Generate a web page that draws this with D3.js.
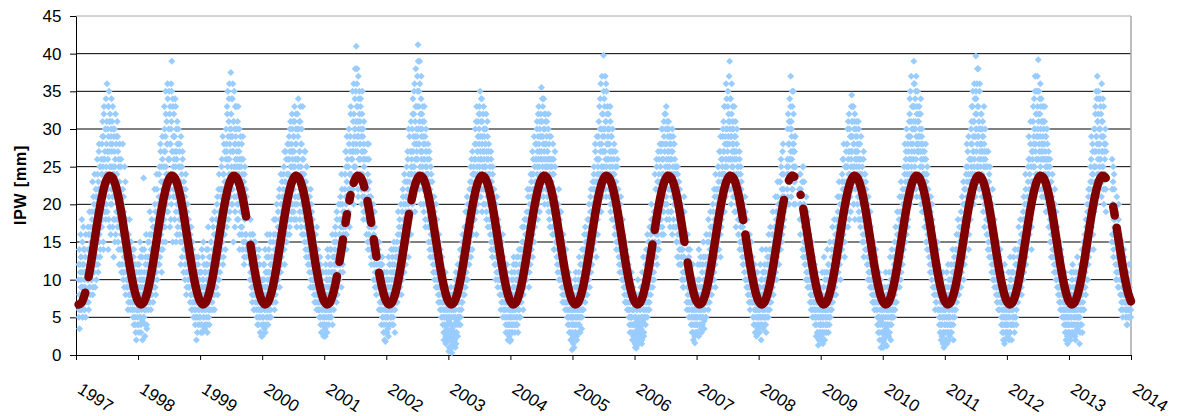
<!DOCTYPE html>
<html><head><meta charset="utf-8">
<script src="https://cdn.jsdelivr.net/npm/d3@7"></script>
<style>
html,body{margin:0;padding:0;background:#fff;}
svg{display:block;font-family:"Liberation Sans",Arial,sans-serif;}
</style></head><body>
<svg id="chart" width="1185" height="416"></svg>
<script>
// ---------------- DATA ----------------
const yearTicks = [1997,1998,1999,2000,2001,2002,2003,2004,2005,2006,2007,2008,2009,2010,2011,2012,2013,2014];
const yTicks = [0,5,10,15,20,25,30,35,40,45];
const yLabel = "IPW [mm]";
// fitted seasonal cycle (mm), half-month steps from Jan 1 (k/24 of year), k = 0..24
const fitCycle = [7.12,6.71,6.89,7.63,8.90,10.59,12.61,14.80,17.03,19.13,20.97,22.42,23.38,23.79,23.61,22.87,21.60,19.91,17.89,15.70,13.47,11.37,9.53,8.08,7.12];
const dataStart = 1997.04;
// periods without observations [from, to] in decimal years
const gaps = [[1997.165,1997.19],[1999.75,1999.80],[2001.215,2001.232],[2001.31,2001.33],[2001.375,2001.39],[2001.435,2001.45],[2001.66,2001.68],[2001.765,2001.785],[2001.85,2001.87],[2002.375,2002.39],[2006.295,2006.31],[2006.81,2006.84],[2007.755,2007.77],[2008.413,2008.455],[2008.595,2008.655],[2008.68,2008.70],[2013.60,2013.69],[2013.74,2013.75]];
// IPW observations (mm): odd days of year (1,3,...,365)
const ipw1997 = [null,null,null,null,null,null,null,9,12,6,3.5,8,11,7,13,10,6,18,9,5,12,8,14,7,11,6,9,13,5,8,12,9,15,7,11,17,10,6,13,9,16,12,8,14,10,14,10,18,12,8,16,21,13,11,19,15,9,17,22,12,16,20,13,24,18,11,22,27,15,19,25,14,21,17,26,22,28,18,31,25,15,29,33,21,26,19,30,24,34,20,31,36,27,22,33,29,18,35,31,25,32,28,16,30,34,27,31,21,33,25,18,29,24,30,15,26,32,22,28,19,24,31,17,27,21,14,25,19,28,12,22,18,26,16,20,19,14,28,17,11,21,15,9,18,13,23,12,16,10,14,13,9,16,11,7,14,10,18,8,12,6,11,15,9,13,10,7,12,5,9,14,6,8,11,4,7,10,2,6,9,5,12,8];
const ipw1998 = [6,9,3,11,7,5,13,8,4,10,6,14,9,2,7,8,23.5,5,11,7,2.5,9,13,6,10,4,8,12,7,15,9,13,7,11,16,8,12,6,14,10,18,9,13,11,7,12,17,9,14,20,11,15,8,18,13,22,10,16,19,12,15,21,18,25,13,20,27,16,23,11,19,26,14,22,17,20,27,33,23,17,29,35,25,21,31,19,28,34,24,26,30,35,26,22,33,28,18,36,31,39,27,24,34,29,21,32,26,29,22,34,25,19,30,27,16,31,23,28,20,25,23,27,18,25,15,21,29,17,24,13,20,26,16,22,19,18,14,21,12,16,24,11,17,9,15,20,13,10,18,12,12,9,15,7,13,10,17,8,11,6,14,9,12,5,10,9,6,11,4,8,13,5,10,7,3,9,12,6,4,8,11,5,7];
const ipw1999 = [5,8,3,11,6,9,4,13,7,10,5,8,12,3.5,6,9,4,7,12,5,10,3,8,14,6,11,7,4,9,13,8,12,6,15,10,7,13,9,17,11,8,14,6,12,10,11,16,9,14,20,12,8,17,13,22,10,15,19,11,14,17,13,22,19,26,15,21,12,24,18,28,16,23,20,14,23,30,19,27,33,22,35,26,18,31,24,36,28,21,29,37.5,32,25,34,29,20,36,27,31,23,35,28,17,33,26,29,33,24,27,20,31,25,18,28,22,30,16,26,23,19,25,20,28,17,23,14,26,19,22,12,24,18,21,15,20,16,21,13,18,11,15,19,10,14,17,9,13,16,11,15,12,9,14,7,11,16,8,13,10,6,12,9,15,7,11,8,11,5,9,7,13,4,10,6,8,12,5,3,9,7,2.5,6,10];
const ipw2000 = [2.5,7,10,5,8,4,12,6,9,3,11,7,5,13,8,6,10,4,8,13,7,11,5,9,15,6,12,8,10,7,10,7,13,9,16,11,6,14,12,8,18,10,15,9,13,12,17,10,15,21,13,9,18,14,11,20,16,12,23,15,18,14,22,16,25,20,12,23,17,27,15,21,19,24,16,21,26,18,24,29,16,27,22,31,20,25,28,19,30,23,27,31,22,29,18,33,25,20,28,32,24,17,30,26,21,29,34,25,21,31,27,18,33,24,28,20,30,16,26,23,22,26,18,24,15,21,27,17,23,13,20,25,16,19,14,17,13,20,15,11,18,14,22,10,16,12,19,9,15,13,12,9,14,10,7,13,11,16,8,10,6,12,9,14,7,9,6,11,5,8,13,7,4,10,6,9,3,7,11,5,8,4,6];
const ipw2001 = [7,4,9,2.5,6,11,5,8,3,10,7,13,5,9,6,8,12,5,10,7,14,6,9,11,4,13,8,10,6,12,11,14,8,16,10,13,7,18,12,9,15,11,17,10,14,13,18,11,20,15,9,17,22,14,12,19,16,23,13,18,19,24,16,21,27,14,23,18,26,20,15,25,22,28,17,24,29,21,33,26,19,31,27,35,23,28,20,32,25,30,34,38,27,31,41,24,36,29,33,22,37,30,26,35,28,31,26,34,23,29,20,32,27,24,30,18,28,25,21,26,23,27,19,25,16,22,28,18,24,14,21,26,17,20,15,18,14,21,12,17,23,11,16,13,19,10,15,12,17,9,13,10,15,8,12,17,9,11,7,14,10,6,12,9,13,9,6,11,4,8,12,5,10,7,3,9,6,2,8,5,1.8,7,10];
const ipw2002 = [4,8,3,6,10,5,2.5,9,7,12,4,8,6,11,5,7,10,4,12,8,5,14,9,6,11,3,8,13,7,10,9,13,7,11,16,10,8,14,12,18,9,13,11,15,8,13,17,10,15,21,12,18,11,24,14,16,20,13,19,15,18,23,15,26,20,13,24,19,29,17,22,27,16,25,21,24,30,20,34,27,22,32,25,36,19,29,33,23,28,26,33,37,26,41.2,30,23,35,28,39,25,32,20,34,29,27,30,25,33,22,28,19,31,26,23,29,17,27,24,21,25,22,26,18,24,15,21,27,17,23,13,20,16,24,19,14,17,13,20,11,16,14,19,10,15,12,18,9,13,11,16,12,9,14,7,11,15,8,10,6,13,9,11,5,10,8,7,4,9,6,2,8,5,11,3,7,1.5,6,9,4,2.5,8,5,3];
const ipw2003 = [3,0.5,5,2,7,1,4,9,2.5,6,0.3,3.5,8,1.5,5,4,7,2,9,5,1,6,11,3,8,4.5,10,2.5,7,5,7,10,5,12,8,4,11,14,6,9,13,7,16,10,8,10,14,8,17,12,9,15,19,11,13,21,10,16,14,18,16,12,20,15,23,18,13,22,26,17,14,24,19,21,25,21,26,18,24,30,22,28,16,33,25,20,27,31,23,29,28,33,24,35,27,21,31,26,34,19,29,25,32,22,30,27,23,30,20,28,25,32,18,26,22,29,17,24,27,21,22,18,25,16,21,27,15,23,19,13,24,17,20,14,22,16,12,19,14,10,17,13,21,11,15,9,18,12,14,10,11,8,14,10,6,12,9,15,7,11,5,13,8,10,7,8,5,10,6,3,9,7,12,4,8,2,6,10,5,3,7,1.8,6];
const ipw2004 = [5,2,8,4,10,6,3,9,7,12,4,6,11,3,8,6,10,4,8,13,5,9,3,11,7,14,6,9,12,5,9,13,7,11,15,8,12,6,14,10,17,9,13,11,16,12,16,10,19,14,11,17,21,13,9,18,15,22,12,16,16,21,14,24,18,13,22,26,17,20,15,25,19,28,21,23,28,20,31,25,18,29,26,33,22,27,30,21,24,32,29,35.5,26,31,22,33,28,24,34,27,20,30,25,32,26,28,24,31,21,27,25,30,19,26,22,29,17,25,23,20,23,19,26,17,22,28,16,24,20,14,21,25,18,15,19,17,13,20,15,11,18,14,22,12,16,10,19,13,15,11,12,9,14,8,11,16,10,7,13,9,12,6,10,14,8,7,10,5,9,4,8,11,6,3,7,9,5,2,6,8,4,0.7,5];
const ipw2005 = [3,6,1.5,5,8,2,7,4,10,3,6,9,2.5,5,8,5,9,3,7,11,4,8,6,12,5,10,7,3.5,9,6,9,12,6,10,14,8,11,7,15,10,13,9,16,8,12,12,16,10,18,13,9,17,14,21,11,15,19,12,16,20,17,22,14,25,19,15,23,27,18,21,13,26,20,24,16,23,29,20,26,33,22,30,24,36,19,28,25,32,21,27,32,39.8,27,34,23,30,37,26,31,21,35,28,24,33,29,28,32,24,30,21,27,31,19,26,23,29,18,25,22,27,22,26,18,24,16,21,27,17,23,14,20,25,15,19,22,17,13,20,14,11,18,15,21,12,16,10,14,18,11,13,12,9,14,8,11,15,10,7,13,9,12,6,11,8,10,8,5,10,6,3,9,7,4,11,5,8,2,6,9,4,7,3,5];
const ipw2006 = [2,4,1,5,3,0.9,6,2.5,4.5,7,3,1.5,5,8,2,4,6,2,8,3.5,5,1.5,7,4,9,3,6,2.5,10,5,6,9,4,11,7,13,8,5,10,12,7,15,9,6,11,10,14,8,16,12,18,11,15,9,20,13,17,10,14,19,15,19,13,22,17,25,12,20,16,23,18,14,26,21,17,20,25,18,28,22,16,26,30,21,24,19,31,23,27,20,28,32,24,33,26,20,30,25,29,22,31,27,18,28,24,26,22,29,19,27,24,30,21,25,17,28,23,20,26,22,20,24,17,22,15,21,25,16,19,13,23,18,14,21,16,15,12,18,13,10,17,14,11,16,9,13,19,11,14,12,10,13,8,11,6,12,9,14,7,10,5,11,9,12,8,7,4,9,6,3,8,5,10,2,6,4,8,1.6,5,7,3,6,9];
const ipw2007 = [5,3,8,4,10,6,2.5,7,5,9,12,4,6,8,3,6,11,4,8,5,13,7,3.5,9,6,10,5,12,8,7,10,7,13,9,6,12,15,8,11,14,9,17,10,12,8,12,17,10,15,19,13,11,16,21,14,9,18,13,22,15,18,14,22,17,25,20,16,24,19,27,13,21,26,18,23,22,26,29,24,31,27,19,33,28,25,21,30,26,34,23,30,27,35,29,32,24,28,39,31,26,34,22,29,36,27,28,33,25,30,27,21,29,26,23,31,19,27,24,28,20,22,25,18,23,16,21,26,15,20,24,17,22,14,19,18,15,19,12,16,11,17,14,21,10,15,13,18,9,14,12,12,8,11,14,7,13,9,6,10,15,8,11,7,12,9,7,5,9,4,8,6,11,3,7,10,5,2.5,6,8,4,7,9,5];
const ipw2008 = [4,7,3,6,9,5,8,2,6.5,10,4,7,11,5,8,6,9,4,7,11,5,8,3,10,7,12,6,9,5,13,8,12,6,10,13,9,7,14,11,9,16,10,12,8,15,13,10,15,12,17,11,14,19,13,16,21,12,18,14,20,15,20,17,23,14,19,25,18,22,16,27,21,17,24,19,21,24,27,19,29,23,26,33,25,22,30,20,28,24,31,28,34,26,30,37,24,31,29,22,33,27,25,35,28,23,27,23,29,25,31,21,26,30,24,19,28,22,25,27,20,22,18,24,20,16,21,26,17,23,14,19,25,15,20,17,15,12,17,13,10,16,19,11,14,9,18,12,15,10,13,11,7,12,9,6,14,8,13,5,10,12,7,9,11,6,7,4,8,5,2.5,9,6,10,3,7,1.3,5,8,4,6,9,3,5];
const ipw2009 = [4,2,6,3,8,5,1.5,7,4,9,6,11,3,7,5,5,8,3,6,10,4,7,12,6,9,4,11,7,5,9,8,11,6,13,9,7,12,10,15,8,14,11,9,16,10,12,15,10,17,13,19,11,16,14,21,12,18,15,10,17,16,21,14,24,18,22,15,26,19,23,13,20,25,17,22,20,25,28,22,30,17,26,24,32,21,27,23,29,19,26,29,34.5,27,31,23,33,28,20,30,25,32,26,22,29,24,27,31,24,28,21,26,30,19,25,23,28,18,24,26,21,22,18,25,20,16,23,27,15,21,17,24,14,19,22,16,14,17,12,20,10,16,13,18,11,15,9,14,17,12,10,11,8,13,10,7,15,9,12,6,10,8,13,7,11,9,6,9,4,7,3,10,5,8,2,6,4,9,1,5,7,3,6,4];
const ipw2010 = [3,1,5,2,6,4,1.5,7,3,5,8,2.5,6,4,9,4,7,2.5,6,9,3,8,5,10,6,4,11,7,5,8,7,10,5,12,8,11,6,13,9,14,7,11,16,9,12,10,15,12,17,9,14,19,13,16,11,21,14,18,12,20,18,14,21,17,24,19,15,23,27,20,16,25,22,28,18,25,22,29,26,32,20,35,28,31,24,27,33,23,30,26,33,39,30,36,25,34,31,22,37,28,32,27,35,24,29,31,27,33,23,29,25,32,20,28,26,30,22,27,24,19,22,26,19,24,17,21,28,18,23,15,20,25,16,22,18,16,13,19,14,11,17,21,12,15,10,18,13,16,11,14,11,8,13,9,6,14,10,7,12,9,15,8,11,6,10,6,4,8,5,3,7,2,9,6,4,10,5,1.5,7,3,6,8,4];
const ipw2011 = [4,2,6,3,8,5,1.5,7,4,9,3,6,10,5,2.5,5,3,7,10,4,8,6,11,5,9,2,7,12,6,8,8,12,6,10,14,7,11,9,13,10,16,8,12,15,9,11,15,9,17,13,12,18,14,16,20,10,15,22,13,17,17,22,15,25,19,23,16,27,21,24,14,20,26,18,23,26,22,30,25,33,28,24,35,29,27,20,31,26,34,23,32,39.7,34,30,36,28,33,25,38,29,31,22,35,27,30,30,26,32,28,24,30,27,22,29,25,33,20,27,23,26,21,25,18,23,16,22,19,27,15,20,24,17,21,14,19,17,13,16,12,20,14,10,15,11,18,13,9,16,12,14,11,8,12,9,7,13,10,6,11,8,14,9,12,7,10,7,4,9,6,3,8,5,2,7,4,1.5,6,9,5,3,8,6,4];
const ipw2012 = [5,3,7,4,9,6,2,8,5,10,3,7,11,4,6,6,9,4,7,11,5,8,3,10,7,12,5,9,6,8,9,12,7,13,10,8,14,11,9,15,12,10,16,8,13,12,16,10,18,14,11,17,20,13,15,22,12,19,14,17,19,15,23,17,26,20,16,24,21,28,18,25,14,22,27,23,27,31,25,29,34,21,30,37,28,24,32,26,35,22,33,29,39.2,31,35,27,24,32,36,30,26,34,28,22,31,29,33,26,30,24,28,31,21,27,25,29,19,26,23,28,22,26,19,24,17,21,25,18,20,15,23,16,21,19,14,16,13,18,14,11,15,20,12,17,10,14,12,16,9,13,11,8,13,9,7,12,10,6,9,14,8,11,5,10,8,7,5,8,4,6,9,3,7,5,2,6,4,8,1.5,5,7,3,6];
const ipw2013 = [4,7,3,6,9,2.5,5,8,4,10,6,3,7,11,5,6,3,8,5,2,7,10,4,6,9,3.5,8,5,11,7,7,1.5,5,9,4,11,6,8,12,3,10,7,13,9,6,9,13,11,15,8,14,17,12,16,19,10,14,21,13,16,15,20,17,23,18,26,21,16,24,28,19,22,14,25,20,25,30,23,33,27,35,29,21,37,31,26,32,24,34,28,28,34,30,26,32,23,36,27,25,31,29,22,33,27,24,28,24,30,22,27,25,21,26,23,20,25,18,24,21,19,19,23,17,21,27,18,15,22,16,20,25,14,18,22,17,14,18,12,16,11,15,10,13,17,9,14,20,12,15,11,12,8,11,6,10,13,7,9,5,11,8,14,7,10,9,8,6,10,5,7,4,9,6,8,5,7,12,6,9,5,8,7,6];
// IPW observations (mm): even days of year (2,4,...,364)
const ipwB1997 = [null,null,null,null,null,null,null,10,5,14,8,12,6,16,9,13,7,11,15,5,9,17,12,6,10,14,8,11,16,7,15,8,12,18,10,14,7,16,11,19,9,13,17,12,15,11,19,14,23,9,17,13,20,16,24,12,18,15,21,10,21,15,26,18,12,23,19,28,16,22,13,25,20,17,24,17,24,29,20,26,14,32,23,19,27,22,30,18,25,28,24,19,30,26,14,33,21,27,17,31,23,20,29,25,22,20,28,17,24,30,13,22,27,18,25,21,16,23,29,19,18,22,29,15,20,26,12,23,17,21,14,25,19,11,17,12,17,22,10,15,19,13,25,11,16,8,14,18,12,9,10,14,6,12,16,8,11,13,9,15,7,10,12,8,14,6,11,8,13,4,9,7,12,5,10,3,8,11,6,9,4,7];
const ipwB1998 = [8,4,12,6,10,15,5,9,3,11,7,13,4.5,8,10,5,10,14,6,9,4,12,7,16,9,3.5,11,8,13,6,11,8,15,10,19,7,13,9,16,12,8,14,10,17,11,16,10,14,22,13,9,19,15,11,24,14,17,12,20,15,18,24,12,20,16,28,19,14,25,21,17,29,15,23,19,25,18,30,22,27,15,32,24,20,28,23,36,19,26,22,26,21,32,17,28,24,30,20,35,23,27,15,33,25,22,24,29,18,27,21,33,15,23,26,20,28,17,22,30,19,20,16,28,19,23,12,22,18,25,15,27,17,21,11,23,14,19,10,16,22,13,8,15,19,11,14,17,9,13,16,9,13,11,16,8,12,6,14,10,15,7,11,13,8,11,7,10,5,12,6,9,2,7,11,5,8,13,4,9,6,10,5];
const ipwB1999 = [7,11,4,9,14,6,3,10,8,15,5,9,6,11,4,11,6,9,14,7,4,12,9,17,5,8,13,6,10,8,10,15,8,12,9,18,11,6,14,10,16,8,19,12,9,13,9,18,15,11,21,14,10,17,12,24,16,13,18,22,21,16,25,14,20,17,29,22,13,24,19,16,27,21,18,26,21,28,17,32,25,20,29,23,34,26,19,30,22,27,30,24,20,29,34,22,27,15,31,25,21,30,19,28,24,25,21,30,18,26,23,33,20,24,27,14,25,21,29,17,21,26,16,24,19,29,15,20,23,13,19,25,16,22,14,13,19,11,20,14,9,17,12,22,13,16,10,18,12,14,10,14,8,13,16,9,12,6,15,10,13,8,11,14,9,6,9,12,4,8,10,6,14,5,9,7,3,10,6,8,4,7];
const ipwB2000 = [5,9,4,12,7,10,3.5,8,14,6,9,4,11,7,16,9,5,11,8,14,6,10,16,7,12,5,9,13,8,11,12,8,15,11,18,9,13,10,16,7,14,12,20,11,15,15,19,13,16,11,22,14,18,12,24,17,13,19,15,21,20,16,24,18,14,27,21,17,23,19,26,15,22,18,28,24,19,28,22,26,17,30,21,25,18,27,23,32,20,26,25,29,19,27,23,31,21,26,30,18,28,24,20,32,26,26,21,30,23,27,19,31,22,25,17,28,24,21,33,19,20,24,16,22,27,18,23,14,21,19,25,15,22,17,12,14,19,12,16,21,13,9,17,14,20,11,15,18,10,16,10,13,8,15,11,9,14,7,12,10,17,8,11,13,6,8,11,6,10,7,12,5,9,3,8,11,6,4,9,7,2.5,8];
const ipwB2001 = [5,9,3.5,8,12,6,10,4,9,14,6,8,11,4,10,10,6,14,9,12,5,11,8,16,10,7,13,9,15,11,13,9,17,12,15,10,19,13,8,16,11,14,20,12,16,16,12,21,17,13,24,18,15,20,11,17,22,14,25,19,22,17,27,20,25,16,29,21,18,26,23,19,30,22,24,27,21,32,24,29,23,34,26,22,31,27,36,25,29,23,30,25,35,28,23,33,38,27,31,21,29,34,26,32,24,28,33,24,30,22,27,35,21,29,26,19,31,23,27,22,25,20,29,21,18,26,23,15,22,19,28,16,23,18,21,15,20,13,18,22,14,17,11,20,14,16,12,19,13,11,11,15,9,13,10,16,12,8,14,11,9,15,10,7,12,10,7,12,6,9,13,7,5,10,8,4,11,6,3,9,5,8];
const ipwB2002 = [6,11,5,9,3.5,8,13,6,10,4,12,7,9,5,14,9,6,13,8,11,4,10,15,8,12,6,9,14,10,7,11,15,9,13,19,12,10,17,14,9,16,13,20,10,14,15,19,12,22,16,13,20,17,14,23,18,12,21,16,25,21,17,27,22,19,30,16,23,20,28,18,24,31,19,26,27,22,32,25,29,21,35,28,24,31,26,38,23,30,27,29,35,24,39,28,33,22,31,36,27,30,23,37,26,32,27,31,24,29,20,26,33,23,28,18,25,30,22,27,20,24,20,28,17,23,19,26,14,22,18,25,15,21,17,23,15,19,12,18,14,21,13,17,11,16,20,12,14,18,10,10,13,8,12,16,9,11,7,14,10,12,6,9,13,7,8,5,10,3,7,9,4,6,11,2.5,5,8,3.5,7,4,6,2];
const ipwB2003 = [2,4.5,1,6,3,8,0.8,5,2,4,7,1.2,3,6,2.5,6,3,8,2,5,10,4,1.5,7,3,9,5,12,4,8,9,6,11,8,14,5,10,13,7,12,9,15,11,8,14,12,16,9,14,11,19,13,10,17,15,12,20,14,18,13,19,15,22,17,14,25,20,16,23,18,27,16,21,24,18,24,19,28,22,26,20,31,23,19,27,24,29,21,26,32,30,25,32,23,29,26,34,22,28,31,24,27,20,33,26,29,25,22,28,24,30,19,27,23,31,21,26,20,28,23,20,24,17,23,19,26,14,21,18,25,16,22,15,19,18,18,14,16,12,20,15,11,18,13,16,10,14,17,12,15,13,10,12,8,14,11,7,13,9,16,8,11,6,12,9,10,6,8,4,7,11,5,9,3,7,10,4,8,2.5,6,4,7];
const ipwB2004 = [7,3,6,11,5,8,4,10,6,13,5,9,7,4,12,8,5,12,7,10,4,9,13,6,11,8,5,10,7,14,11,8,14,10,17,9,12,15,8,13,11,18,10,14,12,14,18,11,16,13,22,15,12,19,16,11,20,17,14,24,19,23,17,21,27,16,20,24,18,29,22,17,23,20,26,26,21,30,24,27,20,32,23,28,25,19,31,26,29,22,27,31,23,34,25,29,21,30,26,32,23,28,24,31,22,25,29,22,27,20,26,32,23,28,18,24,26,21,29,23,21,25,20,16,24,19,26,14,22,18,27,17,21,16,20,15,19,12,17,13,20,16,10,14,18,12,16,11,19,13,10,14,11,7,13,9,15,11,8,12,10,14,7,11,9,9,6,11,7,10,5,9,4,8,6,10,3,7,5,2,6,4];
const ipwB2005 = [5,2.5,7,4,1,6,9,3,5,11,4,7,2,8,6,7,4,10,6,13,5,9,3,8,12,6,10,5,14,8,11,8,13,10,16,9,12,17,10,14,8,15,11,13,18,14,10,16,20,12,15,11,19,13,22,16,12,18,14,23,20,15,24,18,22,17,28,21,16,23,19,29,22,18,25,26,21,31,24,28,22,34,27,23,30,25,37,24,29,23,30,35,25,29,33,27,22,31,36,25,28,32,26,30,23,26,30,22,28,25,33,20,24,29,21,27,23,30,20,24,24,20,28,19,23,17,25,21,15,22,18,26,16,21,17,15,19,12,17,14,20,13,16,12,18,11,15,13,16,10,10,13,9,12,7,11,14,9,12,8,10,13,7,9,12,6,9,4,8,5,7,10,5,8,3,6,9,4,7,2.5,6,4];
const ipwB2006 = [3,1.5,5,2.5,8,1.2,4,6,2,10,3.5,7,1.8,4.5,3,3,6,2.5,9,4,7,2,11,5,4.5,13,7,3,8,5,8,5,12,7,14,6,10,16,8,11,6,15,10,7,17,12,9,17,11,20,13,10,18,12,22,14,11,19,15,24,17,13,22,16,26,18,14,23,19,27,15,24,18,21,28,23,18,27,21,30,24,17,28,22,26,16,29,23,32,20,25,30,21,28,18,31,24,27,19,26,30,22,25,29,17,24,28,19,26,22,16,27,21,29,18,24,28,20,23,25,22,17,25,15,21,13,24,18,20,23,12,19,22,14,18,17,12,20,14,10,19,15,9,16,13,21,10,15,12,17,11,8,14,7,12,16,8,11,9,13,6,10,14,11,7,9,5,10,4,7,6,12,3,8,5,10,2.5,6,4,9,5,3];
const ipwB2007 = [4,9,5,12,3,8,14,6,10,4,7,13,5,3.5,9,9,5,12,7,15,6,10,4.5,8,13,7,11,5,16,9,12,8,15,9,18,10,13,7,16,12,19,10,14,9,17,15,11,20,13,17,10,22,14,18,12,24,15,19,13,21,20,15,25,18,23,14,27,19,22,16,29,21,17,24,20,25,20,30,23,27,19,33,24,21,29,26,36,22,28,25,28,33,23,31,26,37,22,30,34,24,29,20,32,25,30,26,31,21,28,24,33,19,27,23,29,17,26,22,30,20,20,25,16,24,18,27,14,22,19,25,15,23,18,21,13,17,12,20,14,22,11,16,13,19,10,15,18,12,14,9,10,14,8,13,9,16,11,7,12,10,15,8,11,13,7,8,11,5,10,7,12,4,9,6,10,3,8,5,11,3.5,7,6];
const ipwB2008 = [6,3,9,5,12,7,4,10,5,14,6,8,3.5,11,9,8,5,12,6,10,4,14,7,9,5,13,8,6,11,16,10,7,14,9,17,11,8,13,10,16,9,19,11,13,10,12,17,11,15,21,13,18,10,19,15,23,14,16,20,12,18,14,23,19,16,26,20,15,24,21,17,28,20,22,18,23,19,27,22,30,24,18,29,24,26,21,32,25,28,20,26,31,23,33,27,21,30,26,35,22,28,24,32,20,27,25,29,20,27,23,31,18,25,28,21,24,30,19,26,22,20,24,16,22,19,26,15,21,18,25,13,19,17,23,14,16,12,19,13,21,11,17,14,10,18,13,15,9,16,12,10,14,8,12,7,15,9,11,6,13,8,11,5,10,12,6,9,5,11,4,7,10,3,8,5,9,2,6,8,3,7,4];
const ipwB2009 = [5,2.5,8,4,11,6,3,9,5,13,7,2,10,6,4,7,4,11,6,14,5,9,3,12,8,5,15,7,10,6,10,7,14,9,17,11,8,13,10,18,9,12,15,11,8,14,10,18,13,21,11,16,14,23,12,17,20,13,16,19,18,14,23,17,26,20,16,28,18,22,15,25,21,19,27,23,19,28,25,20,31,22,27,18,30,24,21,29,25,33,27,31,22,29,25,33,20,28,24,31,18,27,23,30,26,25,29,20,27,23,31,18,24,28,21,26,17,23,29,20,20,24,15,22,18,26,13,21,19,24,16,20,23,14,18,16,12,19,13,21,11,15,17,10,14,19,12,16,9,13,10,13,7,12,9,15,8,11,13,7,10,14,8,11,6,8,5,10,4,7,11,5,9,3,7,10,4.5,8,2,6,9,3];
const ipwB2010 = [2,5,1.5,7,3,9,2.5,4,11,3.5,6,1.2,8,4,6,5,9,3,11,6,4,13,7,2,10,5,14,8,6,11,9,6,13,8,15,10,7,17,11,9,14,12,19,10,13,13,11,18,14,21,12,16,10,23,15,19,13,17,22,15,20,16,25,19,28,17,22,26,18,30,21,24,17,23,29,27,23,31,24,34,22,29,26,37,25,30,21,33,28,24,31,36,27,33,24,30,35,26,29,21,33,28,23,31,27,28,32,24,30,21,27,34,22,26,29,19,25,28,21,24,24,20,27,17,23,19,26,15,21,24,14,22,17,20,16,18,14,21,12,16,19,11,15,13,20,12,17,9,14,12,12,9,15,8,11,13,7,12,9,14,10,6,12,8,11,8,5,10,3,6,9,4,7,2.5,8,5,11,3,6,1,5,7];
const ipwB2011 = [6,3,9,2,5,11,4,7,3,12,5,8,2,6,4,7,4,9,12,3,10,6,14,7,4,11,8,13,5,10,10,14,8,12,16,9,13,11,18,8,14,10,17,12,11,14,12,19,15,11,21,16,13,18,23,14,17,12,20,15,20,16,24,18,28,21,17,25,19,29,16,23,20,26,18,24,28,21,31,26,23,33,27,22,31,25,36,24,29,21,30,35,27,32,25,38,29,23,33,26,30,24,36,28,25,28,32,24,27,21,29,31,19,26,23,28,17,25,30,22,23,19,27,16,21,25,14,22,18,23,13,19,25,16,20,15,19,11,17,13,22,12,16,10,14,18,11,15,13,10,12,9,14,7,11,15,8,12,9,13,6,10,14,8,11,8,5,11,7,4,10,6,3,9,5,12,2,7,4,8,5,3];
const ipwB2012 = [4,8,2.5,6,11,5,3,9,6,13,4,8,10,2,7,8,5,11,6,13,4,9,7,14,5,10,8,4,12,9,11,8,14,10,17,9,12,15,10,18,11,13,9,16,12,14,11,19,13,21,15,12,18,14,24,13,17,20,15,19,21,17,25,19,29,22,18,26,20,31,19,23,17,27,22,26,21,33,28,23,30,25,35,27,22,32,26,29,24,37,30,35,26,32,28,22,34,29,25,33,27,31,21,28,26,27,31,23,28,21,26,33,24,29,19,26,22,30,20,25,24,20,27,17,22,19,26,15,21,23,13,20,18,24,16,18,14,20,12,16,22,13,15,11,19,14,10,17,13,15,12,9,14,8,11,15,10,7,12,9,13,6,11,8,10,9,6,10,5,7,11,4,8,6,3,9,5,2.5,7,4,6,3];
const ipwB2013 = [5,9,4,8,2,6,11,5,3,7,12,4,9,6,8,4,7,2.5,9,6,11,3,8,5,13,7,4,10,6,9,5,9,3,7,12,6,10,4,14,8,11,6,15,9,12,11,16,9,13,18,12,15,10,20,14,17,12,22,15,18,17,22,14,25,19,29,17,23,20,27,16,24,21,30,19,27,22,32,25,29,20,34,28,24,31,23,35,27,30,25,30,26,33,24,29,21,31,27,23,34,25,29,20,28,24,26,22,28,19,24,27,18,23,25,21,26,17,22,24,20,21,17,24,19,15,22,26,16,20,23,13,19,24,15,18,16,13,19,10,15,21,12,17,11,14,18,9,16,13,12,10,14,8,12,7,11,15,9,6,12,10,13,8,11,7,7,10,5,9,6,11,4,8,7,10,6,9,5,8,6,7,5];
const ipwByYear = [[1997,ipw1997,ipwB1997],[1998,ipw1998,ipwB1998],[1999,ipw1999,ipwB1999],[2000,ipw2000,ipwB2000],[2001,ipw2001,ipwB2001],[2002,ipw2002,ipwB2002],[2003,ipw2003,ipwB2003],[2004,ipw2004,ipwB2004],[2005,ipw2005,ipwB2005],[2006,ipw2006,ipwB2006],[2007,ipw2007,ipwB2007],[2008,ipw2008,ipwB2008],[2009,ipw2009,ipwB2009],[2010,ipw2010,ipwB2010],[2011,ipw2011,ipwB2011],[2012,ipw2012,ipwB2012],[2013,ipw2013,ipwB2013]];

// ---------------- CHART ----------------
const svg = d3.select("#chart");
const L = 76, R = 1131, T = 16, B = 355;
const x = d3.scaleLinear().domain([1997, 2014]).range([L, R]);
const y = d3.scaleLinear().domain([0, 45]).range([B, T]);
const inGap = t => gaps.some(g => t >= g[0] && t <= g[1]);

// gridlines
svg.append("g").selectAll("line").data(yTicks.filter(v => v > 0 && v < 45)).join("line")
  .attr("x1", L).attr("x2", R).attr("y1", d => y(d)).attr("y2", d => y(d))
  .attr("stroke", "#000").attr("stroke-width", 1);
// plot-area border (top / right)
svg.append("line").attr("x1", L).attr("x2", R).attr("y1", y(45)).attr("y2", y(45)).attr("stroke", "#a8a8a8");
svg.append("line").attr("x1", R).attr("x2", R).attr("y1", T).attr("y2", B).attr("stroke", "#a8a8a8").attr("stroke-width", 1.5);

// axes
const yAxis = d3.axisLeft(y).tickValues(yTicks).tickSize(6).tickSizeOuter(0).tickPadding(8.5);
const gy = svg.append("g").attr("transform", `translate(${L},0)`).call(yAxis);
gy.selectAll("text").attr("font-size", 17).attr("font-family", '"Liberation Sans",Arial,sans-serif').attr("fill", "#000");
gy.selectAll("line,path").attr("stroke", "#000");

const xAxis = d3.axisBottom(x).tickValues(yearTicks).tickFormat(d3.format("d")).tickSize(5).tickSizeOuter(0);
const gx = svg.append("g").attr("transform", `translate(0,${B})`).call(xAxis);
gx.selectAll("line,path").attr("stroke", "#000");
gx.selectAll("text").attr("font-size", 17).attr("font-family", '"Liberation Sans",Arial,sans-serif').attr("fill", "#000")
  .attr("y", 0).attr("dy", 0).attr("text-anchor", "start")
  .attr("transform", "translate(0,37) rotate(33)");

// y label
svg.append("text").attr("transform", "translate(26,185) rotate(-90)")
  .attr("text-anchor", "middle").attr("font-weight", "bold").attr("font-size", 16)
  .attr("letter-spacing", 0.8).text(yLabel);

// observations (light blue diamonds)
const obs = [];
ipwByYear.forEach(([yr, odd, even]) => {
  [[odd, 1], [even, 2]].forEach(([vals, d0]) => {
    vals.forEach((v, i) => {
      if (v === null) return;
      const t = yr + (d0 + 2 * i - 0.5) / 365;
      if (t < dataStart || t >= yr + 1 || inGap(t)) return;
      obs.push({t, v});
    });
  });
});
obs.sort((a, b) => a.t - b.t);
svg.append("g").selectAll("path").data(obs).join("path")
  .attr("d", "M0,-3.5L3.5,0L0,3.5L-3.5,0Z")
  .attr("transform", d => `translate(${x(d.t)},${y(d.v)})`)
  .attr("fill", "#99ccff");

// fitted seasonal curve (dark red)
const fitPts = [];
for (let yr = 1997; yr < 2014; yr++) {
  for (let k = 0; k < 24; k++) fitPts.push({t: yr + k / 24, v: fitCycle[k]});
}
fitPts.push({t: 2014, v: fitCycle[24]});
const fitData = fitPts.filter(d => d.t >= dataStart);
const line = d3.line().x(d => x(d.t)).y(d => y(d.v)).curve(d3.curveCatmullRom);
const sw = 8.5;
const red = svg.append("path").attr("d", line(fitData)).attr("fill", "none")
  .attr("stroke", "#800000").attr("stroke-width", sw).attr("stroke-linecap", "round").attr("stroke-linejoin", "round");
const node = red.node();
const total = node.getTotalLength();
function lenAtX(px) {
  let lo = 0, hi = total;
  for (let i = 0; i < 40; i++) { const mid = (lo + hi) / 2; if (node.getPointAtLength(mid).x < px) lo = mid; else hi = mid; }
  return (lo + hi) / 2;
}
const cuts = gaps.map(g => [lenAtX(x(g[0])), lenAtX(x(g[1]))]);
const vis = []; let s = 0;
cuts.forEach(c => { vis.push([s, c[0]]); s = c[1]; });
vis.push([s, total]);
const segs = vis.map((v, i) => {
  let a = v[0] + (i === 0 ? 0 : sw / 2), b = v[1] - (i === vis.length - 1 ? 0 : sw / 2);
  if (b < a) { const m = (v[0] + v[1]) / 2; a = m; b = m + 0.01; }
  return [a, b];
});
const dash = []; let pos = 0;
segs.forEach((sg, i) => {
  if (i > 0) dash.push(Math.max(0.01, sg[0] - pos));
  dash.push(Math.max(0.01, sg[1] - sg[0]));
  pos = sg[1];
});
dash.push(total + 100);
red.attr("stroke-dasharray", dash.map(d => d.toFixed(2)).join(" "));
</script>
</body></html>
